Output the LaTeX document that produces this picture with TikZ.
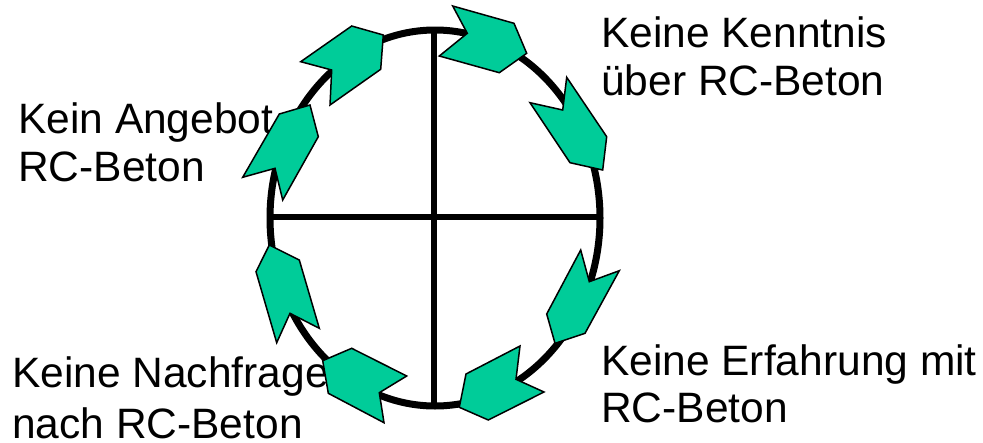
\documentclass[tikz,border=0pt]{standalone}
\usepackage{fontspec}
\setmainfont{Liberation Sans}
\definecolor{arrowgreen}{RGB}{0,204,153}
\begin{document}
\begin{tikzpicture}[x=1pt,y=-1pt,
  lbl/.style={anchor=base west,inner sep=0pt,font=\fontsize{42.5}{48}\selectfont},
  ring/.style={line width=7pt},
  cross/.style={line width=6pt},
  cyc/.style={fill=arrowgreen,draw=black,line width=1.5pt,line join=miter}]
\useasboundingbox (0,0) rectangle (983,442);
% labels
\node[lbl] (k1) at (601,47) {Keine Kenntnis};
\node[lbl] (k2) at (601,95) {über RC-Beton};
\node[lbl] (e1) at (601,375) {Keine Erfahrung mit};
\node[lbl] (e2) at (601,422) {RC-Beton};
\node[lbl] (a1) at (18,133) {Kein Angebot};
\node[lbl] (a2) at (18,181) {RC-Beton};
\node[lbl] (n1) at (12,387) {Keine Nachfrage};
\node[lbl] (n2) at (12,438) {nach RC-Beton};
% ring and cross
\coordinate (c) at (435,218);
\draw[ring] (c) ellipse [x radius=165, y radius=188];
\coordinate (top) at (433.5,30);
\coordinate (bot) at (433.5,406);
\coordinate (lft) at (270,216.5);
\coordinate (rgt) at (600,216.5);
\draw[cross] (top) -- (bot);
\draw[cross] (lft) -- (rgt);
% cycle arrows
\draw[cyc] (452.7,6) -- (514,23.3) -- (526.7,53.3) -- (499.3,72.7) -- (439.3,56) -- (467.3,33.3) -- cycle;
\draw[cyc] (566.7,77.3) -- (606.7,136.7) -- (602.7,170) -- (570,162.7) -- (530,102.7) -- (562.7,110) -- cycle;
\draw[cyc] (580.7,250) -- (546.7,314) -- (555,343.3) -- (585,333.3) -- (619.3,270.7) -- (589.3,281.7) -- cycle;
\draw[cyc] (520,346) -- (466,374) -- (459.3,407.3) -- (488.3,420) -- (544,392) -- (516,379.3) -- cycle;
\draw[cyc] (406.7,376) -- (351.7,348.3) -- (322.7,360.7) -- (328.3,393.3) -- (384,422.7) -- (379.3,392.7) -- cycle;
\draw[cyc] (319.3,328.3) -- (299.3,260) -- (269.3,245) -- (256,271.7) -- (276.7,342.7) -- (290,313.3) -- cycle;
\draw[cyc] (242.7,177.3) -- (279.3,114) -- (310,105) -- (318.3,136.7) -- (282.7,200) -- (275,168.3) -- cycle;
\draw[cyc] (300.7,61.7) -- (351.7,26) -- (383.3,35) -- (380.7,69.3) -- (330,105) -- (331.7,70) -- cycle;
\end{tikzpicture}
\end{document}
